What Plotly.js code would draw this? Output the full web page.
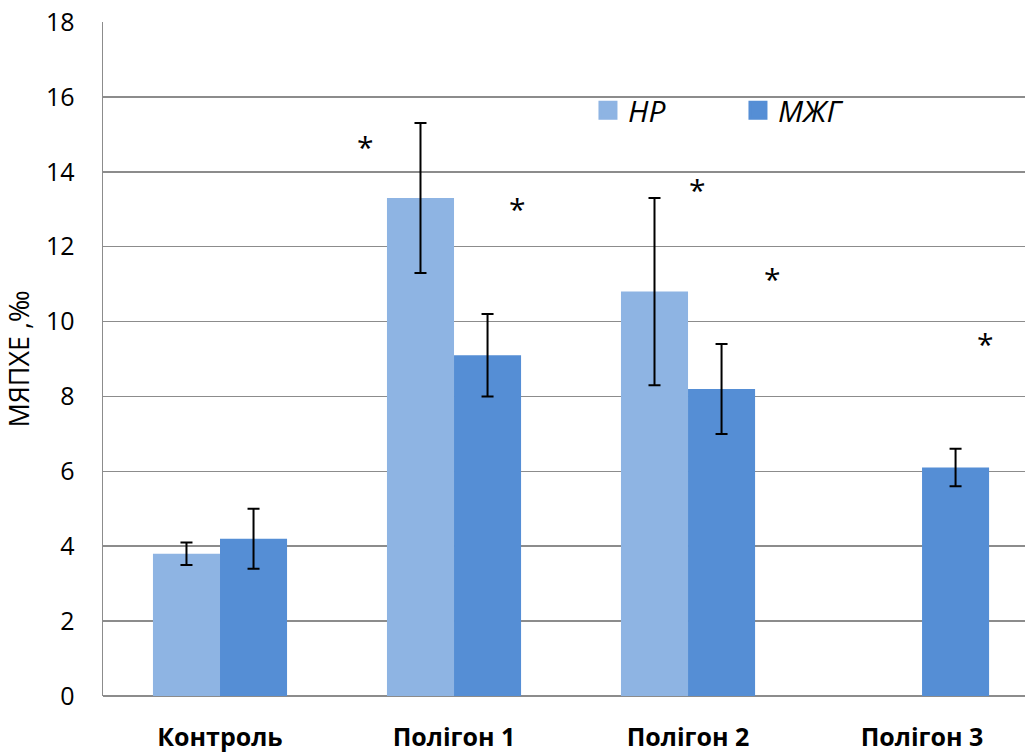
<!DOCTYPE html>
<html>
<head>
<meta charset="utf-8">
<script src="https://cdn.plot.ly/plotly-3.0.1.min.js"></script>
<style>html,body{margin:0;padding:0;background:#fff;}#chart{width:1025px;height:752px;}</style>
</head>
<body>
<div id="chart"></div>
<script>
const categories = ["Контроль", "Полігон 1", "Полігон 2", "Полігон 3"];
const seriesNames = ["НР", "МЖГ"];
const hrValues = [3.8, 13.3, 10.8, null];
const hrErrors = [0.3, 2.0, 2.5, null];
const mzgValues = [4.2, 9.1, 8.2, 6.1];
const mzgErrors = [0.8, 1.1, 1.2, 0.5];
const starX = [0.62, 1.27, 2.04, 2.36, 3.27];
const starY = [14.69, 13.04, 13.55, 11.17, 9.45];
const yTicks = [0, 2, 4, 6, 8, 10, 12, 14, 16, 18];
const colors = ["#8EB4E3", "#558ED5"];

const FONT = "'Open Sans', 'Noto Sans', sans-serif";

const traces = [
  {
    type: "bar", name: seriesNames[0], x: categories, y: hrValues, showlegend: false,
    marker: {color: colors[0]},
    error_y: {type: "data", array: hrErrors, visible: true, color: "#000", thickness: 2, width: 6}
  },
  {
    type: "bar", name: seriesNames[1], x: categories, y: mzgValues, showlegend: false,
    marker: {color: colors[1]},
    error_y: {type: "data", array: mzgErrors, visible: true, color: "#000", thickness: 2, width: 6}
  },
  {
    type: "scatter", mode: "markers", name: seriesNames[0], x: [null], y: [null],
    marker: {symbol: "square", size: 16, color: colors[0], line: {color: colors[0], width: 3}}, showlegend: true
  },
  {
    type: "scatter", mode: "markers", name: seriesNames[1], x: [null], y: [null],
    marker: {symbol: "square", size: 16, color: colors[1], line: {color: colors[1], width: 3}}, showlegend: true
  }
];

const annotations = starX.map((sx, i) => ({
  x: sx, y: starY[i], xref: "x", yref: "y", text: "*", showarrow: false,
  font: {family: FONT, size: 30, color: "#000"}, xanchor: "center", yanchor: "middle", yshift: -1
}));

const layout = {
  width: 1025, height: 752,
  margin: {l: 103, r: 0, t: 22, b: 56},
  paper_bgcolor: "#fff", plot_bgcolor: "#fff",
  barmode: "group", bargap: 0.427, bargroupgap: 0,
  font: {family: FONT, color: "#000"},
  xaxis: {
    type: "category", range: [-0.5, 3.44],
    showgrid: false, zeroline: false, showline: false,
    tickfont: {family: FONT, size: 25, color: "#000", weight: "bold"},
    ticks: "", ticklabelstandoff: 24
  },
  yaxis: {
    range: [0, 18], tickvals: yTicks, ticktext: yTicks.map(String),
    showgrid: true, gridcolor: "#8c8c8c", gridwidth: 1.5,
    zeroline: true, zerolinecolor: "#8c8c8c", zerolinewidth: 1.5,
    showline: true, linecolor: "#8c8c8c", linewidth: 1.5,
    ticks: "", ticklabelstandoff: 22,
    tickfont: {family: FONT, size: 25, color: "#000"},
    title: {text: "МЯПХЕ ,‰", font: {family: FONT, size: 27, color: "#000"}, standoff: 12}
  },
  legend: {
    orientation: "h", x: 0.526, y: 0.869, xanchor: "left", yanchor: "middle",
    font: {family: FONT, size: 30, color: "#000", style: "italic"},
    entrywidth: 105, entrywidthmode: "pixels", bgcolor: "rgba(0,0,0,0)"
  },
  annotations: annotations,
  showlegend: true
};

Plotly.newPlot("chart", traces, layout, {displayModeBar: false, staticPlot: true});
</script>
</body>
</html>
